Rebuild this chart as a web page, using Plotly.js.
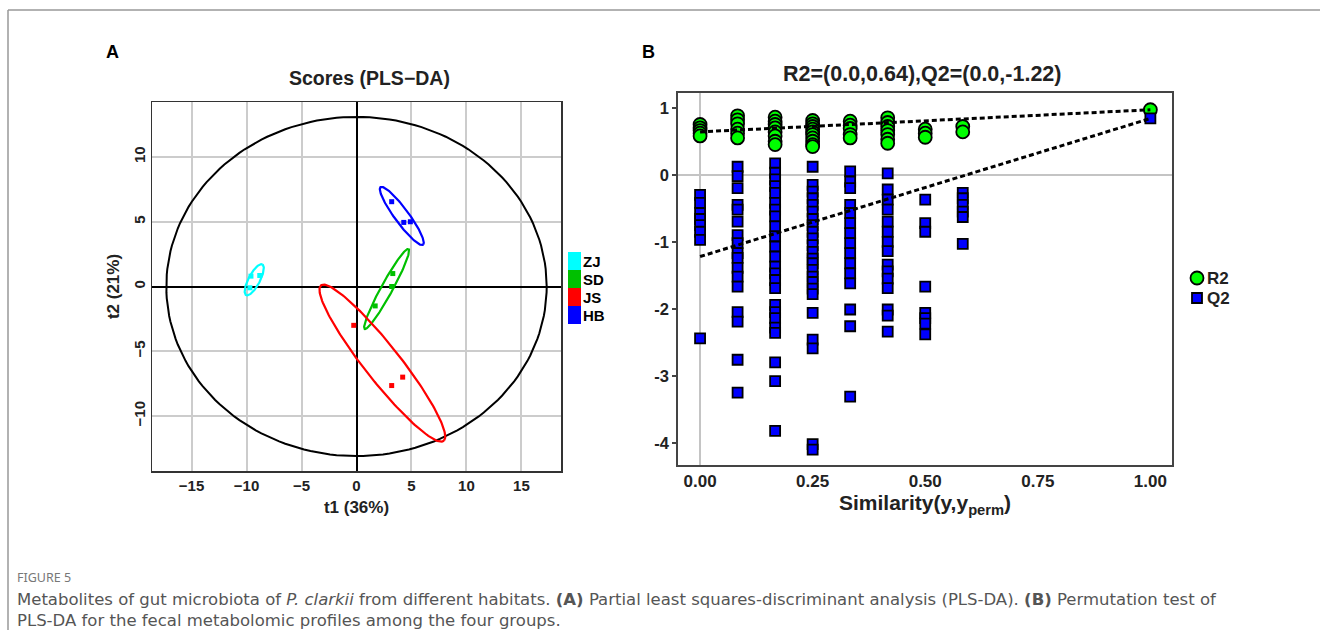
<!DOCTYPE html>
<html><head><meta charset="utf-8">
<script src="https://cdn.plot.ly/plotly-3.0.1.min.js"></script>
<style>html,body{margin:0;padding:0;background:#fff;}#chart{width:1320px;height:630px;}</style>
</head><body><div id="chart"></div>
<script>
// ---------- Panel A: PLS-DA scores ----------
const groups = ['ZJ', 'SD', 'JS', 'HB'];
const groupColors = ['#00ffff', '#00c000', '#ff0000', '#0000ff'];
const t1ZJ = [-9.6, -8.8, -9.7];
const t2ZJ = [0.8, 0.85, -0.1];
const t1SD = [3.3, 3.2, 1.7];
const t2SD = [1.0, 0.0, -1.5];
const t1JS = [-0.25, 3.2, 4.2];
const t2JS = [-3.0, -7.65, -7.0];
const t1HB = [3.2, 4.3, 4.9];
const t2HB = [6.55, 4.95, 5.0];
// group ellipses: centre, semi-axes, rotation (deg)
const ellCx = [-9.3, 2.74, 2.35, 4.12];
const ellCy = [0.52, -0.19, -5.92, 5.45];
const ellA = [1.4, 3.68, 8.2, 2.95];
const ellB = [0.5, 0.5, 1.5, 0.6];
const ellAngle = [57, 57, -46.8, -48.7];
// Hotelling T2 ellipse semi-axes
const hotA = 17.3;
const hotB = 13.1;

// ---------- Panel B: permutation test ----------
const simLevels = [0, 1/12, 2/12, 3/12, 4/12, 5/12, 6/12, 7/12, 1.0];
const r2ByLevel = [
  [0.75, 0.70, 0.66, 0.62, 0.58],
  [0.88, 0.82, 0.76, 0.68, 0.62, 0.55],
  [0.86, 0.80, 0.75, 0.70, 0.64, 0.58, 0.50, 0.45],
  [0.81, 0.76, 0.72, 0.68, 0.64, 0.60, 0.55, 0.50, 0.45, 0.42],
  [0.80, 0.74, 0.69, 0.60, 0.55],
  [0.85, 0.78, 0.72, 0.66, 0.60, 0.53, 0.47],
  [0.68, 0.62, 0.56],
  [0.72, 0.64],
  [0.97]
];
const q2ByLevel = [
  [-0.30, -0.42, -0.57, -0.66, -0.75, -0.85, -0.97, -2.44],
  [0.12, -0.02, -0.20, -0.45, -0.52, -0.70, -0.90, -1.02, -1.17, -1.24, -1.39, -1.52, -1.67, -2.05, -2.19, -2.76, -3.25],
  [0.17, 0.03, -0.07, -0.17, -0.27, -0.42, -0.52, -0.62, -0.77, -0.92, -1.07, -1.22, -1.37, -1.47, -1.57, -1.69, -1.94, -2.05, -2.14, -2.28, -2.36, -2.80, -3.08, -3.82],
  [0.12, -0.15, -0.25, -0.35, -0.45, -0.55, -0.66, -0.75, -0.85, -0.95, -1.05, -1.15, -1.25, -1.32, -1.42, -1.52, -1.60, -1.70, -1.78, -2.06, -2.46, -2.59, -4.02, -4.10],
  [0.05, -0.10, -0.20, -0.45, -0.57, -0.72, -0.87, -1.02, -1.17, -1.32, -1.47, -1.62, -2.01, -2.26, -3.31],
  [0.02, -0.22, -0.37, -0.52, -0.70, -0.85, -1.00, -1.14, -1.34, -1.44, -1.55, -1.69, -2.01, -2.10, -2.34],
  [-0.37, -0.72, -0.85, -1.67, -2.06, -2.14, -2.22, -2.38],
  [-0.27, -0.35, -0.45, -0.55, -0.63, -1.03],
  [0.84]
];
const r2Intercept = 0.64;
const q2Intercept = -1.22;
const r2Orig = 0.97;
const q2Orig = 0.84;
const bTickVals = [-4, -3, -2, -1, 0, 1];
const bTickText = ['-4', '-3', '-2', '-1', '0', '1'];
const bXTickVals = [0, 0.25, 0.5, 0.75, 1.0];
const bXTickText = ['0.00', '0.25', '0.50', '0.75', '1.00'];
const permNames = ['R2', 'Q2'];

// ---------- helpers ----------
const W = 1320, H = 630;
const px = v => v / W;
const py = v => 1 - v / H;
function ellipse(cx, cy, a, b, angDeg) {
  const th = angDeg * Math.PI / 180, xs = [], ys = [];
  for (let i = 0; i <= 180; i++) {
    const t = 2 * Math.PI * i / 180;
    xs.push(cx + a * Math.cos(t) * Math.cos(th) - b * Math.sin(t) * Math.sin(th));
    ys.push(cy + a * Math.cos(t) * Math.sin(th) + b * Math.sin(t) * Math.cos(th));
  }
  return [xs, ys];
}
const FONT = 'Liberation Sans, Arial, sans-serif';
const CAPFONT = 'DejaVu Sans, Noto Sans, sans-serif';

const traces = [];
// Hotelling ellipse
const hot = ellipse(0, 0, hotA, hotB, 0);
traces.push({x: hot[0], y: hot[1], mode: 'lines', line: {color: '#000', width: 2}, xaxis: 'x', yaxis: 'y', showlegend: false, hoverinfo: 'skip'});
const t1s = [t1ZJ, t1SD, t1JS, t1HB];
const t2s = [t2ZJ, t2SD, t2JS, t2HB];
groups.forEach((g, i) => {
  const e = ellipse(ellCx[i], ellCy[i], ellA[i], ellB[i], ellAngle[i]);
  traces.push({x: e[0], y: e[1], mode: 'lines', line: {color: groupColors[i], width: 2.2}, xaxis: 'x', yaxis: 'y', showlegend: false, hoverinfo: 'skip'});
  traces.push({x: t1s[i], y: t2s[i], mode: 'markers', name: g, marker: {symbol: 'square', size: 5, color: groupColors[i]}, xaxis: 'x', yaxis: 'y', showlegend: false});
});

// Panel B
const r2x = [], r2y = [], q2x = [], q2y = [];
simLevels.forEach((s, i) => {
  r2ByLevel[i].forEach(v => { r2x.push(s); r2y.push(v); });
  q2ByLevel[i].forEach(v => { q2x.push(s); q2y.push(v); });
});
traces.push({x: r2x, y: r2y, mode: 'markers', name: permNames[0], marker: {symbol: 'circle', size: 13, color: '#00ff00', line: {color: '#000', width: 1.8}}, xaxis: 'x2', yaxis: 'y2', showlegend: false});
traces.push({x: q2x, y: q2y, mode: 'markers', name: permNames[1], marker: {symbol: 'square', size: 10, color: '#0000ff', line: {color: '#000', width: 1.8}}, xaxis: 'x2', yaxis: 'y2', showlegend: false});
traces.push({x: [0, 1], y: [r2Intercept, r2Orig], mode: 'lines', line: {color: '#000', width: 3, dash: '5px,3px'}, xaxis: 'x2', yaxis: 'y2', showlegend: false, hoverinfo: 'skip'});
traces.push({x: [0, 1], y: [q2Intercept, q2Orig], mode: 'lines', line: {color: '#000', width: 3, dash: '5px,3px'}, xaxis: 'x2', yaxis: 'y2', showlegend: false, hoverinfo: 'skip'});

const shapes = [
  {type: 'line', xref: 'paper', yref: 'paper', x0: px(8), x1: 1, y0: py(10), y1: py(10), line: {color: '#999', width: 1.5}},
  {type: 'line', xref: 'paper', yref: 'paper', x0: px(8), x1: px(8), y0: 0, y1: py(10), line: {color: '#999', width: 1.5}}
];
const annotations = [];
// legend A
groups.forEach((g, i) => {
  const top = 252 + 18 * i;
  shapes.push({type: 'rect', xref: 'paper', yref: 'paper', x0: px(568), x1: px(581), y0: py(top + 18), y1: py(top), fillcolor: groupColors[i], line: {width: 0}});
  annotations.push({xref: 'paper', yref: 'paper', x: px(581), y: py(top + 9), xanchor: 'left', yanchor: 'middle', text: '<b>' + g + '</b>', showarrow: false, font: {family: FONT, size: 15, color: '#000'}});
});
// legend B
shapes.push({type: 'circle', xref: 'paper', yref: 'paper', x0: px(1190.5), x1: px(1203.5), y0: py(284.5), y1: py(271.5), fillcolor: '#00ff00', line: {color: '#000', width: 1.8}});
shapes.push({type: 'rect', xref: 'paper', yref: 'paper', x0: px(1192), x1: px(1202), y0: py(303), y1: py(293), fillcolor: '#0000ff', line: {color: '#000', width: 1.8}});
annotations.push({xref: 'paper', yref: 'paper', x: px(1205), y: py(278), xanchor: 'left', yanchor: 'middle', text: '<b>' + permNames[0] + '</b>', showarrow: false, font: {family: FONT, size: 17, color: '#222'}});
annotations.push({xref: 'paper', yref: 'paper', x: px(1205), y: py(298), xanchor: 'left', yanchor: 'middle', text: '<b>' + permNames[1] + '</b>', showarrow: false, font: {family: FONT, size: 17, color: '#222'}});
// panel letters and titles
annotations.push({xref: 'paper', yref: 'paper', x: px(104), y: py(52), xanchor: 'left', yanchor: 'middle', text: '<b>A</b>', showarrow: false, font: {family: FONT, size: 18, color: '#000'}});
annotations.push({xref: 'paper', yref: 'paper', x: px(640), y: py(52), xanchor: 'left', yanchor: 'middle', text: '<b>B</b>', showarrow: false, font: {family: FONT, size: 18, color: '#000'}});
annotations.push({xref: 'paper', yref: 'paper', x: px(369), y: py(78), xanchor: 'center', yanchor: 'middle', text: '<b>Scores (PLS\u2212DA)</b>', showarrow: false, font: {family: FONT, size: 19.5, color: '#222'}});
annotations.push({xref: 'paper', yref: 'paper', x: px(922), y: py(74), xanchor: 'center', yanchor: 'middle', text: '<b>R2=(0.0,' + r2Intercept.toFixed(2) + '),Q2=(0.0,' + q2Intercept.toFixed(2) + ')</b>', showarrow: false, font: {family: FONT, size: 21.5, color: '#222'}});
// caption
annotations.push({xref: 'paper', yref: 'paper', x: px(15), y: py(577), xanchor: 'left', yanchor: 'middle', text: 'FIGURE 5', showarrow: false, font: {family: 'Noto Sans, sans-serif', size: 12.5, color: '#777'}});
annotations.push({xref: 'paper', yref: 'paper', x: px(15), y: py(599), xanchor: 'left', yanchor: 'middle', text: 'Metabolites of gut microbiota of <i>P. clarkii</i> from different habitats. <b>(A)</b> Partial least squares-discriminant analysis (PLS-DA). <b>(B)</b> Permutation test of', showarrow: false, font: {family: CAPFONT, size: 16.5, color: '#555'}});
annotations.push({xref: 'paper', yref: 'paper', x: px(15), y: py(620), xanchor: 'left', yanchor: 'middle', text: 'PLS-DA for the fecal metabolomic profiles among the four groups.', showarrow: false, font: {family: CAPFONT, size: 16.5, color: '#555'}});

const tickFontA = {family: FONT, size: 15, color: '#222', weight: 'bold'};
const layout = {
  width: W, height: H,
  margin: {l: 0, r: 0, t: 0, b: 0, pad: 0},
  paper_bgcolor: '#fff', plot_bgcolor: '#fff',
  showlegend: false,
  xaxis: {domain: [px(152), px(561)], range: [-18.6, 18.6], dtick: 5, tick0: 0, showgrid: true, gridcolor: '#cccccc', gridwidth: 2,
          zeroline: true, zerolinecolor: '#000', zerolinewidth: 2, showline: true, mirror: true, linecolor: '#333', linewidth: 1.5,
          ticks: '', tickfont: tickFontA, anchor: 'y', fixedrange: true,
          title: {text: '<b>t1 (36%)</b>', font: {family: FONT, size: 17, color: '#222'}, standoff: 8}},
  yaxis: {domain: [py(471), py(102)], range: [-14.25, 14.25], dtick: 5, tick0: 0, showgrid: true, gridcolor: '#cccccc', gridwidth: 2,
          zeroline: true, zerolinecolor: '#000', zerolinewidth: 2, showline: true, mirror: true, linecolor: '#333', linewidth: 1.5,
          ticks: '', tickfont: tickFontA, tickangle: -90, anchor: 'x', fixedrange: true,
          title: {text: '<b>t2 (21%)</b>', font: {family: FONT, size: 17, color: '#222'}, standoff: 6}},
  xaxis2: {domain: [px(678), px(1172)], range: [-0.049, 1.048], tickvals: bXTickVals, ticktext: bXTickText, showgrid: false,
           zeroline: true, zerolinecolor: '#c4c4c4', zerolinewidth: 2, showline: true, mirror: true, linecolor: '#444', linewidth: 1.8,
           ticks: '', tickfont: {family: FONT, size: 17, color: '#222', weight: 'bold'}, anchor: 'y2', fixedrange: true,
           title: {text: '<b>Similarity(y,y<sub>perm</sub>)</b>', font: {family: FONT, size: 21, color: '#222'}, standoff: 4}},
  yaxis2: {domain: [py(465), py(93)], range: [-4.33, 1.22], tickvals: bTickVals, ticktext: bTickText, showgrid: false,
           zeroline: true, zerolinecolor: '#c4c4c4', zerolinewidth: 2, showline: true, mirror: true, linecolor: '#444', linewidth: 1.8,
           ticks: 'outside', ticklen: 4, tickwidth: 1.5, tickcolor: '#444', tickfont: {family: FONT, size: 16.5, color: '#222', weight: 'bold'}, anchor: 'x2', fixedrange: true},
  shapes: shapes,
  annotations: annotations
};
Plotly.newPlot('chart', traces, layout, {displayModeBar: false, staticPlot: true});
</script>
</body></html>
